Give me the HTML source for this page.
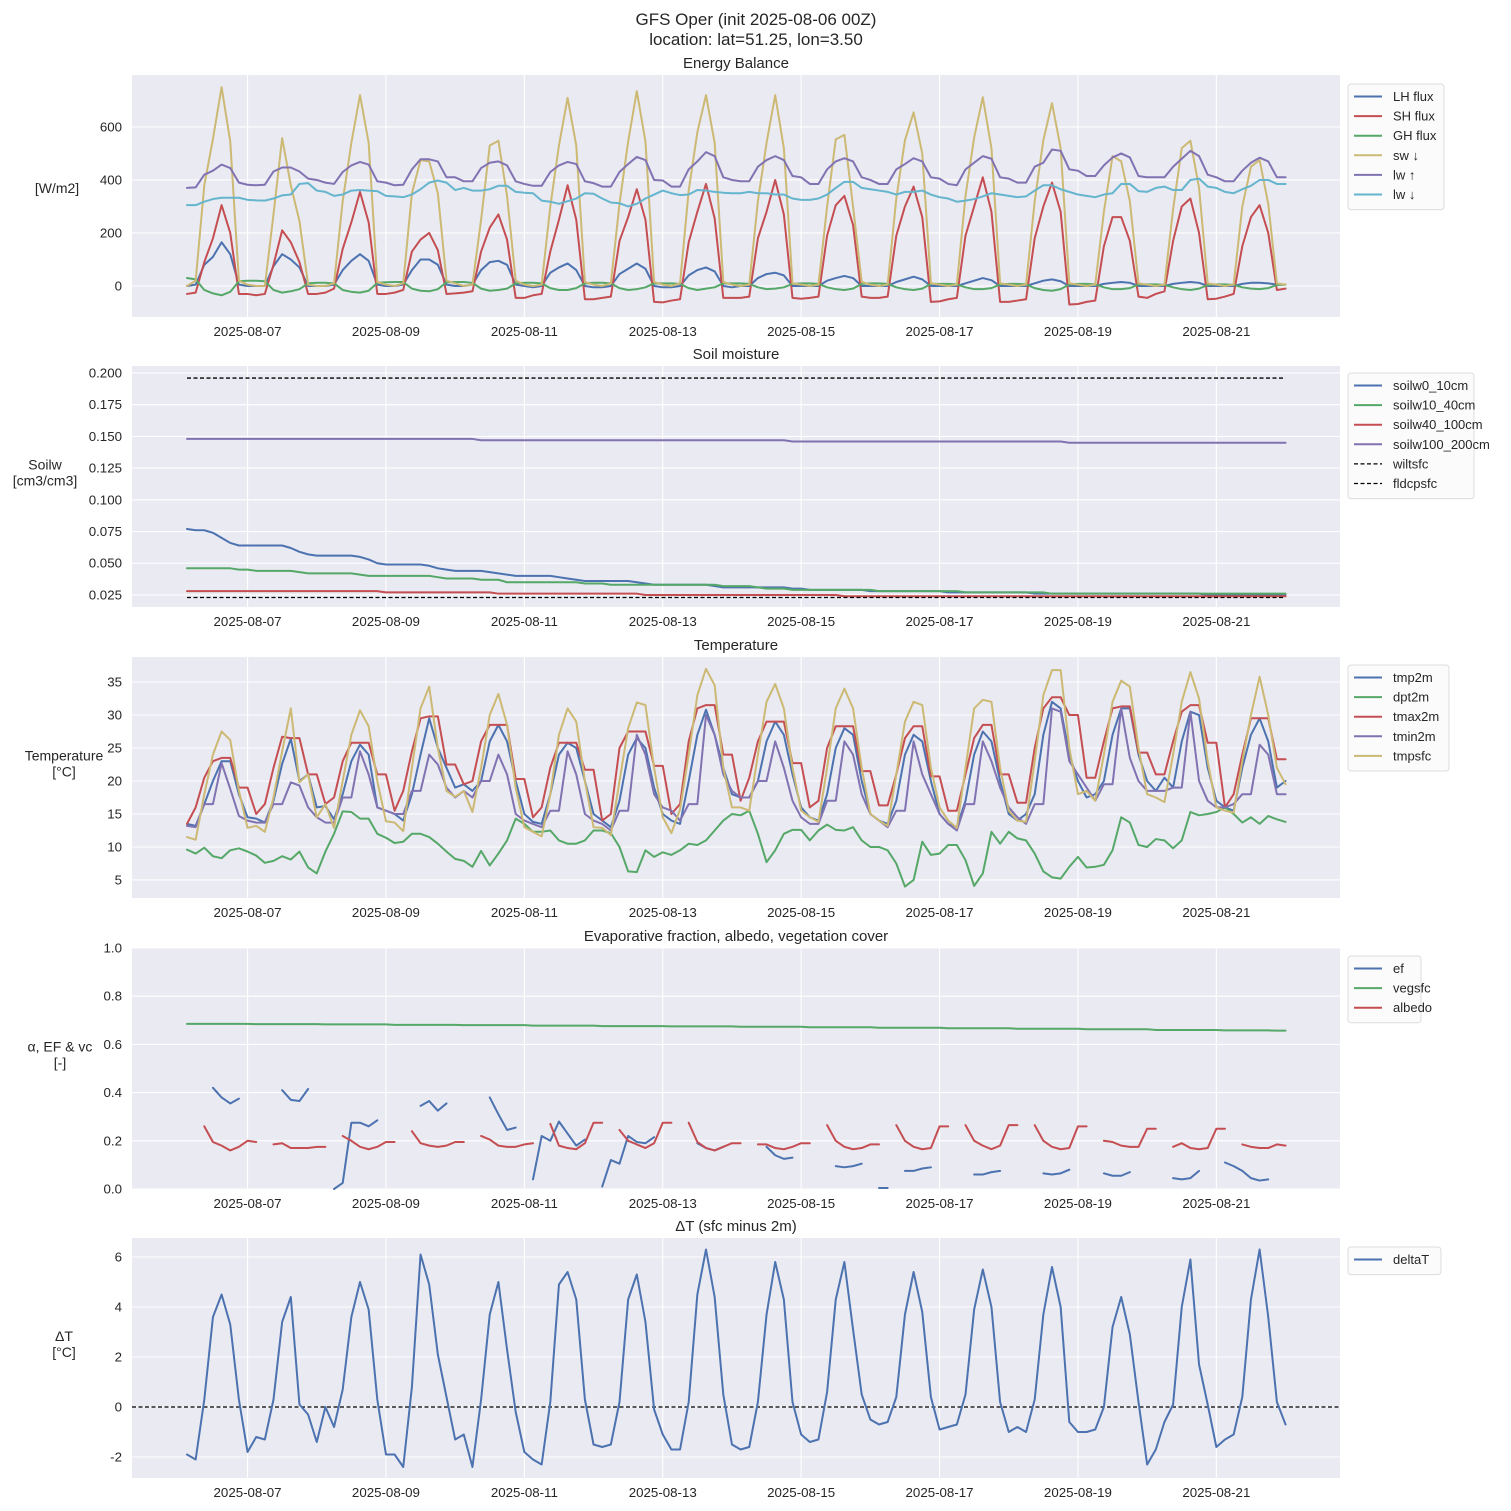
<!DOCTYPE html>
<html><head><meta charset="utf-8">
<style>
html,body{margin:0;padding:0;background:#fff;}
svg{display:block;font-family:"Liberation Sans","DejaVu Sans",sans-serif;}
</style></head>
<body>
<svg id="fig" width="1511" height="1511" viewBox="0 0 1511 1511" xmlns="http://www.w3.org/2000/svg">
<text x="756" y="25" text-anchor="middle" font-size="17" fill="#262626">GFS Oper (init 2025-08-06 00Z)</text>
<text x="756" y="45" text-anchor="middle" font-size="17" fill="#262626">location: lat=51.25, lon=3.50</text>
</svg>
<script>
// ---------- shared time axis ----------
const dateTickLabels = ['2025-08-07','2025-08-09','2025-08-11','2025-08-13','2025-08-15','2025-08-17','2025-08-19','2025-08-21'];
const dateTickIndex = [7,23,39,55,71,87,103,119];
const nPoints = 128;

// ---------- Energy balance [W/m2] ----------
const lhFlux = [0,5,80,110,165,120,5,0, 0,0,75,120,100,70,0,0, 0,5,60,95,120,95,5,0, 0,5,60,100,100,80,5,0, 0,5,60,90,95,80,5,0, -5,0,50,70,85,60,0,-5, -5,0,45,65,85,65,0,-5, -5,0,40,60,70,55,0,-5, 0,0,30,45,50,40,0,0, 0,0,20,30,38,30,0,0, 0,0,15,25,35,25,0,0, 0,0,10,20,30,22,0,0, 0,0,10,20,25,18,0,0, 0,0,8,12,15,12,0,0, 0,0,8,12,15,12,0,0, 0,0,8,12,12,10,5,5];
const shFlux = [-30,-25,90,180,305,200,-30,-30, -35,-30,80,210,165,90,-30,-30, -25,-10,140,240,355,240,-30,-30, -25,-15,130,175,200,135,-30,-28, -25,-20,130,220,270,175,-45,-45, -35,-30,130,250,380,250,-50,-50, -45,-40,170,260,365,250,-60,-62, -55,-50,165,280,385,255,-45,-45, -45,-40,180,280,400,270,-45,-48, -45,-40,190,305,340,230,-40,-45, -45,-40,190,300,375,260,-60,-58, -50,-45,190,300,410,280,-60,-60, -55,-50,180,300,390,280,-70,-68, -60,-55,150,260,260,170,-40,-45, -30,-20,170,300,330,200,-50,-48, -40,-30,150,260,305,200,-15,-10];
const ghFlux = [30,25,-15,-28,-35,-22,18,20, 20,18,-15,-25,-20,-12,10,12, 12,10,-15,-22,-25,-18,12,14, 15,15,-10,-18,-20,-12,14,15, 15,12,-10,-18,-15,-10,10,12, 12,10,-8,-15,-15,-8,10,12, 12,10,-8,-15,-12,-5,10,10, 10,8,-8,-15,-10,-5,10,10, 10,8,-5,-12,-10,-5,8,10, 10,8,-5,-12,-15,-10,8,10, 10,8,-5,-12,-15,-10,8,8, 8,6,-5,-12,-12,-8,6,8, 8,6,-8,-15,-18,-12,6,8, 8,6,-5,-12,-12,-8,6,6, 6,4,-5,-12,-15,-10,4,6, 6,4,-5,-10,-12,-8,4,5];
const swDown = [0,20,380,555,750,545,20,5, 0,0,270,558,380,245,5,0, 0,10,320,540,720,540,15,5, 0,10,350,475,470,350,20,10, 0,5,250,530,548,340,20,5, 0,5,300,530,710,530,15,5, 0,10,310,545,735,545,15,5, 0,10,360,580,720,540,15,5, 0,5,320,540,720,520,10,5, 0,5,300,553,570,300,15,5, 0,5,330,550,655,500,10,5, 0,5,340,560,712,520,10,5, 0,5,320,550,690,520,10,5, 0,5,280,490,470,320,10,5, 0,5,290,520,548,370,10,5, 0,5,300,450,475,310,10,5];
const lwUp = [370,372,420,435,458,445,390,382, 380,382,432,447,447,432,405,400, 390,385,430,455,468,458,395,390, 380,382,440,478,478,470,410,410, 395,395,445,465,470,455,395,385, 378,378,430,455,468,460,395,388, 375,375,430,460,487,475,400,398, 375,375,440,470,505,490,410,400, 395,395,450,475,490,475,415,410, 385,385,440,470,482,470,410,400, 385,385,440,460,482,470,410,405, 385,380,440,465,490,480,410,405, 390,390,450,465,515,510,440,435, 415,415,455,485,500,485,415,410, 410,410,450,480,510,490,420,410, 395,395,435,465,484,470,410,410];
const lwDown = [305,305,318,328,333,333,333,325, 323,322,330,342,345,385,388,360, 355,340,345,360,362,360,358,340, 338,335,345,365,390,398,390,362, 370,360,360,365,378,378,355,352, 350,322,318,310,320,330,350,348, 330,315,312,300,310,330,345,360, 350,343,345,362,360,355,352,350, 350,355,350,350,345,345,330,325, 325,330,345,370,393,393,370,365, 360,355,345,355,355,360,345,335, 330,318,322,328,338,350,345,340, 335,338,360,380,380,365,355,345, 340,335,345,350,385,385,358,355, 370,375,362,362,400,405,375,370, 355,350,365,378,400,400,385,385];
const energyTicks = [0,200,400,600];

// ---------- Soil moisture ----------
const soilw0 = [.077,.076,.076,.074,.070,.066,.064,.064, .064,.064,.064,.064,.062,.059,.057,.056, .056,.056,.056,.056,.055,.053,.050,.049, .049,.049,.049,.049,.048,.046,.045,.044, .044,.044,.044,.043,.042,.041,.040,.040, .040,.040,.040,.039,.038,.037,.036,.036, .036,.036,.036,.036,.035,.034,.033,.033, .033,.033,.033,.033,.033,.032,.031,.031, .031,.031,.031,.031,.031,.031,.030,.030, .029,.029,.029,.029,.029,.029,.029,.028, .028,.028,.028,.028,.028,.028,.028,.028, .027,.027,.027,.027,.027,.027,.027,.027, .027,.027,.026,.026,.026,.026,.026,.026, .026,.026,.026,.026,.026,.026,.026,.026, .026,.026,.026,.026,.026,.026,.025,.025, .025,.025,.025,.025,.025,.025,.025,.025];
const soilw10 = [.046,.046,.046,.046,.046,.046,.045,.045, .044,.044,.044,.044,.044,.043,.042,.042, .042,.042,.042,.042,.041,.040,.040,.040, .040,.040,.040,.040,.040,.039,.038,.038, .038,.038,.037,.037,.037,.035,.035,.035, .035,.035,.035,.035,.035,.035,.034,.034, .034,.033,.033,.033,.033,.033,.033,.033, .033,.033,.033,.033,.033,.033,.032,.032, .032,.032,.031,.030,.030,.030,.029,.029, .029,.029,.029,.029,.029,.029,.029,.029, .028,.028,.028,.028,.028,.028,.028,.028, .028,.028,.027,.027,.027,.027,.027,.027, .027,.027,.027,.027,.026,.026,.026,.026, .026,.026,.026,.026,.026,.026,.026,.026, .026,.026,.026,.026,.026,.026,.026,.026, .026,.026,.026,.026,.026,.026,.026,.026];
const soilw40 = [.028,.028,.028,.028,.028,.028,.028,.028, .028,.028,.028,.028,.028,.028,.028,.028, .028,.028,.028,.028,.028,.028,.028,.027, .027,.027,.027,.027,.027,.027,.027,.027, .027,.027,.027,.027,.026,.026,.026,.026, .026,.026,.026,.026,.026,.026,.026,.026, .026,.026,.026,.026,.026,.025,.025,.025, .025,.025,.025,.025,.025,.025,.025,.025, .025,.025,.025,.025,.025,.025,.025,.025, .025,.025,.025,.025,.024,.024,.024,.024, .024,.024,.024,.024,.024,.024,.024,.024, .024,.024,.024,.024,.024,.024,.024,.024, .024,.024,.024,.024,.024,.024,.024,.024, .024,.024,.024,.024,.024,.024,.024,.024, .024,.024,.024,.024,.024,.024,.024,.024, .024,.024,.024,.024,.024,.024,.024,.024];
const soilw100 = [.148,.148,.148,.148,.148,.148,.148,.148, .148,.148,.148,.148,.148,.148,.148,.148, .148,.148,.148,.148,.148,.148,.148,.148, .148,.148,.148,.148,.148,.148,.148,.148, .148,.148,.147,.147,.147,.147,.147,.147, .147,.147,.147,.147,.147,.147,.147,.147, .147,.147,.147,.147,.147,.147,.147,.147, .147,.147,.147,.147,.147,.147,.147,.147, .147,.147,.147,.147,.147,.147,.146,.146, .146,.146,.146,.146,.146,.146,.146,.146, .146,.146,.146,.146,.146,.146,.146,.146, .146,.146,.146,.146,.146,.146,.146,.146, .146,.146,.146,.146,.146,.146,.145,.145, .145,.145,.145,.145,.145,.145,.145,.145, .145,.145,.145,.145,.145,.145,.145,.145, .145,.145,.145,.145,.145,.145,.145,.145];
const wiltsfc = [.023,.023];
const fldcpsfc = [.196,.196];
const soilTicks = [0.025,0.050,0.075,0.100,0.125,0.150,0.175,0.200];

// ---------- Temperature ----------
const tmp2m = [13.5,13.2,16.5,20,23,23,18,14.5, 14.3,13.7,17,22.6,26.4,20,21,16, 16.2,14.2,18,23,25.5,24,16,15.5, 15,14,18,24,29.5,25,22,19, 19.5,18.5,20,26,28.5,26,20,15, 13.8,13.5,18,24,25.8,25,20,15, 14,13,17,24,26.5,25,19,15, 14,13.5,20,27,30.8,27,22,18, 17.5,17.5,20,26,29,27,21,16, 14.5,14,18,25,28,27,20,15, 14,13.5,17,24,27,26,20,15, 13.5,13,17,24,27.5,26,20,15, 14,15,18,27,32,31,24,20, 17.5,18,20,27,31,31,24,20, 18.5,20.5,19,26,30.5,30,22,17, 16,15.5,22,27,29.5,26,19,20];
const dpt2m = [9.6,9.0,9.9,8.6,8.3,9.5,9.8,9.3, 8.7,7.6,7.9,8.6,8.1,9.3,6.9,6.0, 9.3,12,15.4,15.3,14.3,14.3,12,11.4, 10.6,10.8,12,12,11.5,10.5,9.3,8.2, 7.9,7.0,9.4,7.2,9,11,14.3,13.5, 12.3,12.3,12.5,11,10.5,10.5,11,12.5, 12.5,12.1,10,6.3,6.2,9.5,8.5,9.2, 8.8,9.5,10.5,10.3,11,12.5,14,15, 14.8,15.5,12,7.7,9.5,12,12.6,12.6, 11,12.5,13.4,12.6,12.5,13,11,10, 10,9.5,7.5,4,5,10.8,8.8,9, 10.3,10.3,8,4.1,6,12.3,10.5,12.3, 11.3,11,9,6.3,5.4,5.2,7,8.5, 6.9,7,7.3,9.5,14.5,13.7,10.3,10, 11.2,11,9.8,11,15.3,14.8,15,15.3, 16,15,13.7,14.5,13.5,14.7,14.2,13.8];
const tmax2m = [13.5,16,20.5,23,23.5,23.5,19,19, 15,16.5,22,26.7,26.5,26.5,21,21, 16.5,17.5,23,25.8,25.8,25.8,21,21, 15.5,18.5,24.5,29.5,29.8,29.8,22.5,22.5, 19.5,20,26,28.5,28.5,28.5,20.3,20.3, 14.5,16,22,25.8,25.8,25.8,21.7,21.7, 14,15,25,27.5,27.5,27.5,22.3,22.3, 15,16.5,26,31,31.5,31.5,24,24, 17,20.5,26,29,29,29,22.7,22.7, 16,17,25,28.3,28.3,28.3,21.5,21.5, 16.3,16.3,21,26.5,28.3,28.3,20.7,20.7, 15.5,15.5,21,26.5,28.5,28.5,21,21, 16.7,16.7,25,31,32.7,32.7,30,30, 20.5,20.5,26,31,31.3,31.3,24.3,24.3, 21,21,26,30.5,31.5,31.5,25.8,25.8, 16,18,24,29.5,29.5,29.5,23.3,23.3];
const tmin2m = [13.2,13.0,16.5,16.5,22.7,18.8,14.7,14.0, 13.7,13.7,16.5,16.5,19.8,19.3,16,14.5, 13.7,13.7,17.5,17.5,24.5,21,16,15.5, 15,15,18.5,18.5,24,22.5,19,17.5, 18.5,17.5,20,20,24,21,15,14, 13.5,13,15.5,15.5,24.5,21,15,14, 13.5,12.5,15.5,15.5,27,24,18,16, 15.5,14,16.5,16.5,30,27,21,18.5, 17.5,17.5,20,20,26,22,17,14.5, 13.5,13.5,17,17,26,24,18,15, 14,13,15.5,15.5,26,21,18,15, 13.5,12.5,16.5,16.5,26,23,19,16, 14.5,13.5,16.5,16.5,31,30.5,23,21, 19,17,19.5,19.5,31,23.5,20,18.5, 18.5,18.5,19,19,30.5,20,17,16, 16,16.5,18,18,25.5,24,18,18];
const tmpsfc = [11.5,11.1,18,24,27.5,26.2,18.5,12.9, 13.2,12.3,17.5,24.5,31,19.8,21,14.5, 16.5,12.9,20,27,30.7,28.3,20,13.9, 13.7,12.4,22,31,34.3,25,18.5,17.6, 18.5,15.3,22,30,33.2,28.5,19,13, 12.3,11.6,18,27,31,29,20,13, 12.9,11.8,20,28,31.9,31.5,22,14.5, 12.1,15.7,24,33,37,34.5,22,16, 16,15.5,24,32,34.7,31,22,15.5, 14.5,13.8,22,31,34,31,22,15, 14,13.2,21,29,32,31.5,22,16, 14,12.9,22,31,32.3,32,22,15.5, 14,13.8,23,33,36.8,36.8,25,18, 18.5,17,24,32,35.2,34.3,25,18, 17.5,16.8,24,32,36.5,32.5,23,16, 15.5,15.2,23,30,35.8,30,22,19.5];
const tempTicks = [5,10,15,20,25,30,35];

// ---------- EF, albedo, vegetation ----------
const n = null;
const efrac = [n,n,n,.42,.38,.355,.375,n, n,n,n,.41,.37,.365,.415,n, n,0,.025,.275,.275,.26,.285,n, n,n,n,.345,.365,.325,.355,n, n,n,n,.38,.31,.245,.255,n, .04,.22,.2,.28,.23,.18,.205,n, .01,.12,.105,.22,.195,.19,.215,n, n,n,n,.19,.17,.16,.175,n, n,n,n,.175,.14,.125,.13,n, n,n,n,.095,.09,.095,.105,n, .004,.004,n,.075,.075,.085,.09,n, n,n,n,.06,.06,.07,.075,n, n,n,n,.065,.06,.065,.08,n, n,n,.065,.055,.055,.07,n,n, n,n,.045,.04,.045,.075,n,n, .11,.095,.075,.045,.035,.04,n,n];
const vegsfc = [.685,.685,.685,.685,.685,.685,.685,.685, .684,.684,.684,.684,.684,.684,.684,.684, .683,.683,.683,.683,.683,.683,.683,.683, .681,.681,.681,.681,.681,.681,.681,.681, .680,.680,.680,.680,.680,.680,.680,.680, .678,.678,.678,.678,.678,.678,.678,.678, .676,.676,.676,.676,.676,.676,.676,.676, .675,.675,.675,.675,.675,.675,.675,.675, .673,.673,.673,.673,.673,.673,.673,.673, .671,.671,.671,.671,.671,.671,.671,.671, .669,.669,.669,.669,.669,.669,.669,.669, .667,.667,.667,.667,.667,.667,.667,.667, .665,.665,.665,.665,.665,.665,.665,.665, .663,.663,.663,.663,.663,.663,.663,.663, .660,.660,.660,.660,.660,.660,.660,.660, .658,.658,.658,.658,.658,.658,.657,.657];
const albedo = [n,n,.26,.195,.18,.16,.175,.2, .195,n,.185,.19,.17,.17,.17,.175, .175,n,.22,.2,.175,.165,.175,.195, .195,n,.24,.19,.18,.175,.18,.195, .195,n,.22,.205,.18,.175,.175,.185, .19,n,.27,.18,.17,.165,.19,.275, .275,n,.245,.2,.185,.17,.19,.275, .275,n,.275,.195,.17,.16,.175,.19, .19,n,.185,.185,.17,.165,.175,.19, .19,n,.265,.2,.175,.165,.17,.185, .185,n,.265,.2,.175,.165,.17,.26, .26,n,.265,.2,.18,.165,.18,.265, .265,n,.265,.2,.175,.165,.17,.26, .26,n,.2,.195,.18,.175,.175,.25, .25,n,.175,.19,.17,.165,.17,.25, .25,n,.185,.175,.17,.17,.185,.18];
const fracTicks = [0.0,0.2,0.4,0.6,0.8,1.0];

// ---------- Delta T ----------
const deltaT = [-1.9,-2.1,0.3,3.6,4.5,3.3,0.3,-1.8, -1.2,-1.3,0.3,3.4,4.4,0.1,-0.3,-1.4, 0.0,-0.8,0.7,3.6,5.0,3.9,0.3,-1.9, -1.9,-2.4,0.8,6.1,4.9,2.1,0.4,-1.3, -1.1,-2.4,0.3,3.7,5.0,2.3,-0.2,-1.8, -2.1,-2.3,0.2,4.9,5.4,4.3,0.3,-1.5, -1.6,-1.5,0.2,4.3,5.3,3.4,-0.1,-1.1, -1.7,-1.7,0.2,4.5,6.3,4.4,0.5,-1.5, -1.7,-1.6,0.2,3.7,5.8,4.3,0.2,-1.1, -1.4,-1.3,0.6,4.3,5.8,3.1,0.5,-0.5, -0.7,-0.6,0.4,3.7,5.4,3.8,0.4,-0.9, -0.8,-0.7,0.5,3.9,5.5,4.0,0.2,-1.0, -0.8,-1.0,0.3,3.7,5.6,4.0,-0.6,-1.0, -1.0,-0.9,0.0,3.2,4.4,2.9,0.2,-2.3, -1.7,-0.6,0.1,4.0,5.9,1.7,0.1,-1.6, -1.3,-1.1,0.4,4.3,6.3,3.6,0.2,-0.7];
const deltaZero = [0,0];
const dtTicks = [-2,0,2,4,6];

// ---------- rendering ----------
const NS = 'http://www.w3.org/2000/svg';
const svg = document.getElementById('fig');
const PL = 132, PR = 1340;
const X0 = 187, DX = 8.65;
function xScale(i){ return X0 + DX*i; }
function mk(tag, attrs, parent){
  const e = document.createElementNS(NS, tag);
  for (const k in attrs) e.setAttribute(k, attrs[k]);
  (parent||svg).appendChild(e);
  return e;
}
function makePanel(top, bottom, ymin, ymax){
  return {top, bottom, ymin, ymax, y: v => bottom - (v - ymin)/(ymax - ymin)*(bottom - top)};
}
function linePath(p, vals){
  let d = '', pen = false;
  vals.forEach((v,i)=>{
    if (v === null || v === undefined){ pen = false; return; }
    d += (pen ? 'L' : 'M') + xScale(i).toFixed(2) + ',' + p.y(v).toFixed(2);
    pen = true;
  });
  return d;
}
const COL = {blue:'#4c72b0', red:'#c44e52', green:'#55a868', yellow:'#ccb974', purple:'#8172b2', cyan:'#64b5cd', black:'#000'};

function drawAxes(name, p, yticks, fmt, title, ylabelLines, ylabelX){
  const g = mk('g', {});
  
  
  const bg = mk('rect', {x:PL, y:p.top, width:PR-PL, height:p.bottom-p.top, fill:'#eaeaf2'}, g);
  
  
  dateTickIndex.forEach((ti, k)=>{
    const x = xScale(ti);
    const gl = mk('line', {x1:x, x2:x, y1:p.top, y2:p.bottom, stroke:'#fff', 'stroke-width':1.1}, g);
    
    
    const t = mk('text', {x:x, y:p.bottom+19, 'text-anchor':'middle', 'font-size':13.3, fill:'#262626'}, g);
    
    
    t.textContent = dateTickLabels[k];
  });
  yticks.forEach(v=>{
    const y = p.y(v);
    const gl = mk('line', {x1:PL, x2:PR, y1:y, y2:y, stroke:'#fff', 'stroke-width':1.1}, g);
    
    
    const t = mk('text', {x:PL-10, y:y+4.5, 'text-anchor':'end', 'font-size':13.3, fill:'#262626'}, g);
    
    
    t.textContent = fmt(v);
  });
  const tt = mk('text', {x:(PL+PR)/2, y:p.top-7, 'text-anchor':'middle', 'font-size':15, fill:'#262626'}, g);
  
  
  tt.textContent = title;
  const midY = (p.top+p.bottom)/2;
  const nl = ylabelLines.length;
  ylabelLines.forEach((s, k)=>{
    const t = mk('text', {x:ylabelX, y:midY - 3 - (nl-1)*14 + k*16, 'text-anchor':'middle', 'font-size':14, fill:'#262626'}, g);
    
    
    t.textContent = s;
  });
}
function drawSeries(name, p, vals, color, dash){
  const a = {d:linePath(p, vals), fill:'none', stroke:color, 'stroke-width': dash ? 1.3 : 2, 'stroke-linejoin':'round', 'stroke-linecap':'round'};
  if (dash){ a['stroke-dasharray'] = '4,2.5'; a['stroke-linecap']='butt'; }
  const e = mk('path', a);
  
  
}
function drawConst(name, p, vals, color){
  const y0 = p.y(vals[0]), y1 = p.y(vals[1]);
  const e = mk('line', {x1:xScale(0), x2:xScale(nPoints-1), y1:y0, y2:y1, stroke:color, 'stroke-width':1.3, 'stroke-dasharray':'4,2.5'});
  
  
}
function drawConstFull(name, p, vals, color){
  const e = mk('line', {x1:PL, x2:PR, y1:p.y(vals[0]), y2:p.y(vals[1]), stroke:color, 'stroke-width':1.3, 'stroke-dasharray':'4,2.5'});
  
  
}
function drawLegend(name, top, width, entries){
  const g = mk('g', {});
  
  
  const h = entries.length*19.6 + 8;
  mk('rect', {x:1348, y:top, width:width, height:h, rx:3, fill:'#fafafc', 'fill-opacity':0.85, stroke:'#dcdcdc', 'stroke-width':1}, g);
  entries.forEach((en,k)=>{
    const y = top + 12.5 + k*19.6;
    const la = {x1:1354, x2:1382, y1:y, y2:y, stroke:en[1], 'stroke-width': en[2] ? 1.3 : 2};
    if (en[2]) la['stroke-dasharray'] = '4,2.5';
    const l = mk('line', la, g);
    
    
    const t = mk('text', {x:1393, y:y+4.5, 'font-size':13, fill:'#262626'}, g);
    
    
    t.textContent = en[0];
  });
}

// Panel 1
const p1 = makePanel(75, 317, -117, 796);
drawAxes('energy', p1, energyTicks, v=>String(v), 'Energy Balance', ['[W/m2]'], 57);
drawSeries('lh-flux-line', p1, lhFlux, COL.blue);
drawSeries('sh-flux-line', p1, shFlux, COL.red);
drawSeries('gh-flux-line', p1, ghFlux, COL.green);
drawSeries('sw-down-line', p1, swDown, COL.yellow);
drawSeries('lw-up-line', p1, lwUp, COL.purple);
drawSeries('lw-down-line', p1, lwDown, COL.cyan);
drawLegend('energy-legend', 84, 96, [['LH flux',COL.blue],['SH flux',COL.red],['GH flux',COL.green],['sw \u2193',COL.yellow],['lw \u2191',COL.purple],['lw \u2193',COL.cyan]]);

// Panel 2
const p2 = makePanel(366, 607, 0.0155, 0.2055);
drawAxes('soil', p2, soilTicks, v=>v.toFixed(3), 'Soil moisture', ['Soilw','[cm3/cm3]'], 45);
drawSeries('soilw0-10cm-line', p2, soilw0, COL.blue);
drawSeries('soilw10-40cm-line', p2, soilw10, COL.green);
drawSeries('soilw40-100cm-line', p2, soilw40, COL.red);
drawSeries('soilw100-200cm-line', p2, soilw100, COL.purple);
drawConst('wiltsfc-line', p2, wiltsfc, COL.black);
drawConst('fldcpsfc-line', p2, fldcpsfc, COL.black);
drawLegend('soil-legend', 373, 126, [['soilw0_10cm',COL.blue],['soilw10_40cm',COL.green],['soilw40_100cm',COL.red],['soilw100_200cm',COL.purple],['wiltsfc',COL.black,true],['fldcpsfc',COL.black,true]]);

// Panel 3
const p3 = makePanel(657, 898, 2.27, 38.79);
drawAxes('temperature', p3, tempTicks, v=>String(v), 'Temperature', ['Temperature','[\u00b0C]'], 64);
drawSeries('tmp2m-line', p3, tmp2m, COL.blue);
drawSeries('dpt2m-line', p3, dpt2m, COL.green);
drawSeries('tmax2m-line', p3, tmax2m, COL.red);
drawSeries('tmin2m-line', p3, tmin2m, COL.purple);
drawSeries('tmpsfc-line', p3, tmpsfc, COL.yellow);
drawLegend('temperature-legend', 665, 101, [['tmp2m',COL.blue],['dpt2m',COL.green],['tmax2m',COL.red],['tmin2m',COL.purple],['tmpsfc',COL.yellow]]);

// Panel 4
const p4 = makePanel(948, 1189, 0, 1);
drawAxes('fraction', p4, fracTicks, v=>v.toFixed(1), 'Evaporative fraction, albedo, vegetation cover', ['\u03b1, EF & vc','[-]'], 60);
drawSeries('ef-line', p4, efrac, COL.blue);
drawSeries('vegsfc-line', p4, vegsfc, COL.green);
drawSeries('albedo-line', p4, albedo, COL.red);
drawLegend('fraction-legend', 956, 73, [['ef',COL.blue],['vegsfc',COL.green],['albedo',COL.red]]);

// Panel 5
const p5 = makePanel(1238, 1478, -2.84, 6.76);
drawAxes('delta-t', p5, dtTicks, v=>String(v), '\u0394T (sfc minus 2m)', ['\u0394T','[\u00b0C]'], 64);
drawConstFull('zero-line', p5, deltaZero, COL.black);
drawSeries('delta-t-line', p5, deltaT, COL.blue);
drawLegend('delta-t-legend', 1247, 93, [['deltaT',COL.blue]]);
</script>
</body></html>
